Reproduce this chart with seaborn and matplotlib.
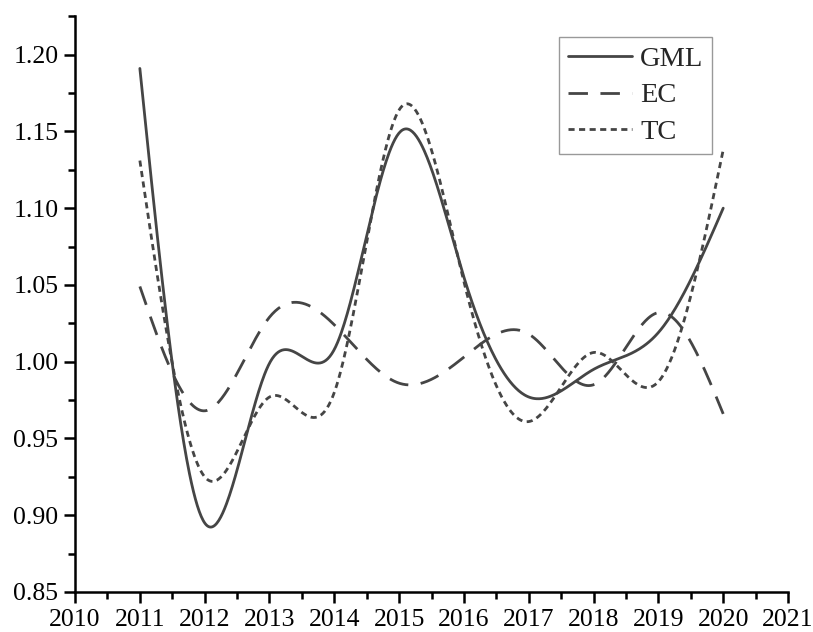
import numpy as np
import pandas as pd
import matplotlib
matplotlib.use("Agg")
import matplotlib.pyplot as plt
import seaborn as sns
from matplotlib.ticker import MultipleLocator

years = [2011, 2012, 2013, 2014, 2015, 2016, 2017, 2018, 2019, 2020]
gml = [1.191, 0.895, 0.999, 1.008, 1.149, 1.055, 0.977, 0.995, 1.019, 1.100]
ec = [1.049, 0.968, 1.029, 1.024, 0.986, 1.003, 1.018, 0.985, 1.032, 0.966]
tc = [1.131, 0.925, 0.977, 0.980, 1.164, 1.052, 0.961, 1.006, 0.987, 1.138]
series_names = ["GML", "EC", "TC"]


def natural_spline(x, y, xs):
    x = np.asarray(x, float)
    y = np.asarray(y, float)
    n = len(x)
    h = np.diff(x)
    A = np.zeros((n, n))
    r = np.zeros(n)
    A[0, 0] = 1
    A[-1, -1] = 1
    for i in range(1, n - 1):
        A[i, i - 1] = h[i - 1]
        A[i, i] = 2 * (h[i - 1] + h[i])
        A[i, i + 1] = h[i]
        r[i] = 6 * ((y[i + 1] - y[i]) / h[i] - (y[i] - y[i - 1]) / h[i - 1])
    M = np.linalg.solve(A, r)
    idx = np.clip(np.searchsorted(x, xs) - 1, 0, n - 2)
    x0, x1 = x[idx], x[idx + 1]
    hh = x1 - x0
    a = (x1 - xs) / hh
    b = (xs - x0) / hh
    return (a * y[idx] + b * y[idx + 1]
            + ((a ** 3 - a) * M[idx] + (b ** 3 - b) * M[idx + 1]) * hh ** 2 / 6)


sns.set_style("ticks")
plt.rcParams["font.family"] = ["Liberation Serif", "DejaVu Serif"]

fig = plt.figure(figsize=(8.13, 6.32), dpi=100)
ax = fig.add_axes([0.0923, 0.0633, 0.877, 0.911])

xs = np.linspace(years[0], years[-1], 600)
color = "#454545"
styles = {"GML": None, "EC": (7, 4.5), "TC": (2.2, 1.6)}
for name, vals in zip(series_names, [gml, ec, tc]):
    df = pd.DataFrame({"x": xs, "y": natural_spline(years, vals, xs)})
    sns.lineplot(data=df, x="x", y="y", ax=ax, color=color, lw=2.0,
                 label=name, estimator=None, sort=False)
    line = ax.lines[-1]
    if styles[name] is not None:
        line.set_dashes(styles[name])

ax.set_xlim(2010, 2021)
ax.set_ylim(0.85, 1.225)
ax.xaxis.set_major_locator(MultipleLocator(1))
ax.xaxis.set_minor_locator(MultipleLocator(0.5))
ax.yaxis.set_major_locator(MultipleLocator(0.05))
ax.yaxis.set_minor_locator(MultipleLocator(0.025))
ax.yaxis.set_major_formatter(matplotlib.ticker.FormatStrFormatter("%.2f"))
ax.set_xlabel("")
ax.set_ylabel("")
for s in ["top", "right"]:
    ax.spines[s].set_visible(False)
for s in ["left", "bottom"]:
    ax.spines[s].set_linewidth(1.8)
    ax.spines[s].set_color("black")
ax.tick_params(which="major", direction="out", length=8, width=1.8,
               labelsize=18.5, colors="black", pad=4)
ax.tick_params(which="minor", direction="out", length=5, width=1.8, colors="black")

leg = ax.legend(loc="upper left", bbox_to_anchor=(0.679, 0.9635), fontsize=20.5,
                frameon=True, fancybox=False, handlelength=2.25,
                handletextpad=0.3, borderpad=0.3, labelspacing=0.38,
                borderaxespad=0)
leg.get_frame().set_edgecolor("#808080")
leg.get_frame().set_linewidth(1.0)

fig.savefig("out.png", dpi=100)
